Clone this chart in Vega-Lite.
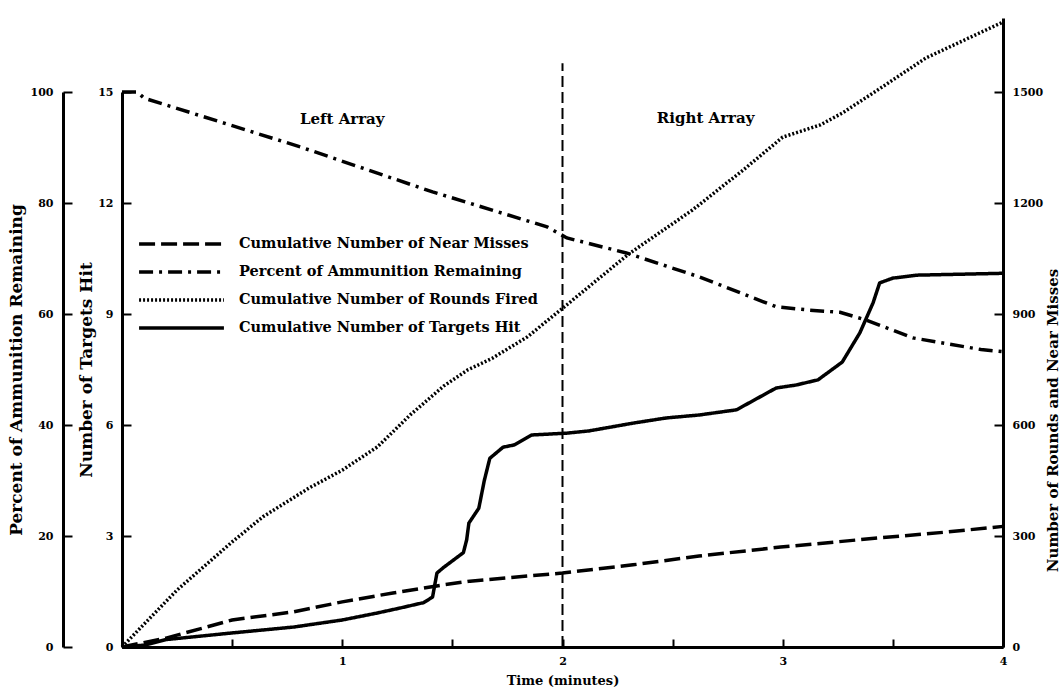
{
  "$schema": "https://vega.github.io/schema/vega-lite/v6.json",
  "width": 881,
  "height": 629,
  "autosize": {"type": "none"},
  "padding": {"left": 122, "top": 18, "right": 59, "bottom": 47},
  "background": "white",
  "config": {
    "view": {"stroke": null},
    "font": "DejaVu Serif",
    "axis": {
      "labelFont": "DejaVu Serif", "labelFontWeight": "bold", "labelFontSize": 11, "labelColor": "black",
      "titleFont": "DejaVu Serif", "titleFontWeight": "bold", "titleFontSize": 13, "titleColor": "black",
      "domainColor": "black", "domainWidth": 3, "tickColor": "black", "tickWidth": 2, "grid": false
    },
    "axisY": {"titleFontSize": 17}
  },
  "layer": [
    {
      "data": {"values": [
        {"t": 0, "v": 100, "series": "Percent of Ammunition Remaining"},
        {"t": 0.07, "v": 100, "series": "Percent of Ammunition Remaining"},
        {"t": 0.1, "v": 98.9, "series": "Percent of Ammunition Remaining"},
        {"t": 0.81, "v": 90.1, "series": "Percent of Ammunition Remaining"},
        {"t": 1.41, "v": 82, "series": "Percent of Ammunition Remaining"},
        {"t": 1.93, "v": 75.7, "series": "Percent of Ammunition Remaining"},
        {"t": 2.02, "v": 73.7, "series": "Percent of Ammunition Remaining"},
        {"t": 2.29, "v": 71, "series": "Percent of Ammunition Remaining"},
        {"t": 2.62, "v": 66.7, "series": "Percent of Ammunition Remaining"},
        {"t": 2.97, "v": 61.3, "series": "Percent of Ammunition Remaining"},
        {"t": 3.12, "v": 60.7, "series": "Percent of Ammunition Remaining"},
        {"t": 3.26, "v": 60.3, "series": "Percent of Ammunition Remaining"},
        {"t": 3.38, "v": 58.9, "series": "Percent of Ammunition Remaining"},
        {"t": 3.59, "v": 55.7, "series": "Percent of Ammunition Remaining"},
        {"t": 3.9, "v": 53.6, "series": "Percent of Ammunition Remaining"},
        {"t": 4.0, "v": 53.2, "series": "Percent of Ammunition Remaining"}
      ]},
      "mark": {"type": "line", "color": "black", "strokeCap": "butt"},
      "encoding": {
        "x": {"field": "t", "type": "quantitative", "scale": {"domain": [0, 4], "nice": false},
              "axis": {"title": "Time (minutes)", "values": [0.5, 1, 1.5, 2, 2.5, 3, 3.5, 4], "labelExpr": "datum.value % 1 == 0 ? format(datum.value, 'd') : ''", "tickSize": -8, "labelPadding": 16, "labelFlush": false, "titlePadding": 8}},
        "y": {"field": "v", "type": "quantitative", "scale": {"domain": [0, 100], "range": [629, 74], "nice": false},
              "axis": {"orient": "left", "offset": 59, "values": [0, 20, 40, 60, 80, 100], "format": "d", "title": "Percent of Ammunition Remaining", "tickSize": -9, "labelPadding": 19, "titlePadding": 5}},
        "strokeDash": {"field": "series", "type": "nominal",
          "scale": {"domain": ["Cumulative Number of Near Misses", "Percent of Ammunition Remaining", "Cumulative Number of Rounds Fired", "Cumulative Number of Targets Hit"],
                    "range": [[16, 6], [14, 6, 3, 6], [2, 2], [1, 0]]},
          "legend": {"title": null, "orient": "none", "legendX": 15, "legendY": 213, "symbolType": "stroke", "symbolSize": 7200, "clipHeight": 26, "rowPadding": 2, "labelOffset": 13, "labelFont": "DejaVu Serif", "labelFontWeight": "bold", "labelFontSize": 14.5, "labelColor": "black", "labelLimit": 500, "symbolStrokeColor": "black", "padding": 0}},
        "strokeWidth": {"field": "series", "type": "nominal",
          "scale": {"domain": ["Cumulative Number of Near Misses", "Percent of Ammunition Remaining", "Cumulative Number of Rounds Fired", "Cumulative Number of Targets Hit"],
                    "range": [3.5, 3.5, 2, 4]},
          "legend": {"title": null, "orient": "none", "legendX": 15, "legendY": 213, "symbolType": "stroke", "symbolSize": 7200, "clipHeight": 26, "rowPadding": 2, "labelOffset": 13, "labelFont": "DejaVu Serif", "labelFontWeight": "bold", "labelFontSize": 14.5, "labelColor": "black", "labelLimit": 500, "symbolStrokeColor": "black", "padding": 0}}
      }
    },
    {
      "data": {"values": [
        {"t": 0, "v": 0, "series": "Cumulative Number of Targets Hit"},
        {"t": 0.1, "v": 0.05, "series": "Cumulative Number of Targets Hit"},
        {"t": 0.2, "v": 0.2, "series": "Cumulative Number of Targets Hit"},
        {"t": 0.5, "v": 0.38, "series": "Cumulative Number of Targets Hit"},
        {"t": 0.78, "v": 0.54, "series": "Cumulative Number of Targets Hit"},
        {"t": 1.0, "v": 0.73, "series": "Cumulative Number of Targets Hit"},
        {"t": 1.16, "v": 0.92, "series": "Cumulative Number of Targets Hit"},
        {"t": 1.26, "v": 1.05, "series": "Cumulative Number of Targets Hit"},
        {"t": 1.37, "v": 1.2, "series": "Cumulative Number of Targets Hit"},
        {"t": 1.41, "v": 1.35, "series": "Cumulative Number of Targets Hit"},
        {"t": 1.43, "v": 2.0, "series": "Cumulative Number of Targets Hit"},
        {"t": 1.46, "v": 2.15, "series": "Cumulative Number of Targets Hit"},
        {"t": 1.55, "v": 2.55, "series": "Cumulative Number of Targets Hit"},
        {"t": 1.565, "v": 2.9, "series": "Cumulative Number of Targets Hit"},
        {"t": 1.575, "v": 3.35, "series": "Cumulative Number of Targets Hit"},
        {"t": 1.62, "v": 3.75, "series": "Cumulative Number of Targets Hit"},
        {"t": 1.645, "v": 4.5, "series": "Cumulative Number of Targets Hit"},
        {"t": 1.67, "v": 5.1, "series": "Cumulative Number of Targets Hit"},
        {"t": 1.73, "v": 5.4, "series": "Cumulative Number of Targets Hit"},
        {"t": 1.78, "v": 5.46, "series": "Cumulative Number of Targets Hit"},
        {"t": 1.86, "v": 5.73, "series": "Cumulative Number of Targets Hit"},
        {"t": 2.02, "v": 5.78, "series": "Cumulative Number of Targets Hit"},
        {"t": 2.12, "v": 5.84, "series": "Cumulative Number of Targets Hit"},
        {"t": 2.32, "v": 6.05, "series": "Cumulative Number of Targets Hit"},
        {"t": 2.47, "v": 6.19, "series": "Cumulative Number of Targets Hit"},
        {"t": 2.62, "v": 6.27, "series": "Cumulative Number of Targets Hit"},
        {"t": 2.79, "v": 6.41, "series": "Cumulative Number of Targets Hit"},
        {"t": 2.97, "v": 7.0, "series": "Cumulative Number of Targets Hit"},
        {"t": 3.06, "v": 7.08, "series": "Cumulative Number of Targets Hit"},
        {"t": 3.16, "v": 7.22, "series": "Cumulative Number of Targets Hit"},
        {"t": 3.27, "v": 7.7, "series": "Cumulative Number of Targets Hit"},
        {"t": 3.35, "v": 8.49, "series": "Cumulative Number of Targets Hit"},
        {"t": 3.41, "v": 9.3, "series": "Cumulative Number of Targets Hit"},
        {"t": 3.44, "v": 9.84, "series": "Cumulative Number of Targets Hit"},
        {"t": 3.5, "v": 9.97, "series": "Cumulative Number of Targets Hit"},
        {"t": 3.61, "v": 10.05, "series": "Cumulative Number of Targets Hit"},
        {"t": 4.0, "v": 10.1, "series": "Cumulative Number of Targets Hit"}
      ]},
      "mark": {"type": "line", "color": "black", "strokeCap": "butt", "strokeJoin": "round"},
      "encoding": {
        "x": {"field": "t", "type": "quantitative", "scale": {"domain": [0, 4], "nice": false},
              "axis": {"title": "Time (minutes)", "values": [0.5, 1, 1.5, 2, 2.5, 3, 3.5, 4], "labelExpr": "datum.value % 1 == 0 ? format(datum.value, 'd') : ''", "tickSize": -8, "labelPadding": 16, "labelFlush": false, "titlePadding": 8}},
        "y": {"field": "v", "type": "quantitative", "scale": {"domain": [0, 15], "range": [629, 74], "nice": false},
              "axis": {"orient": "left", "offset": 0, "values": [0, 3, 6, 9, 12, 15], "format": "d", "title": "Number of Targets Hit", "tickSize": -9, "labelPadding": 18, "titlePadding": 2}},
        "strokeDash": {"field": "series", "type": "nominal",
          "scale": {"domain": ["Cumulative Number of Near Misses", "Percent of Ammunition Remaining", "Cumulative Number of Rounds Fired", "Cumulative Number of Targets Hit"],
                    "range": [[16, 6], [14, 6, 3, 6], [2, 2], [1, 0]]}},
        "strokeWidth": {"field": "series", "type": "nominal",
          "scale": {"domain": ["Cumulative Number of Near Misses", "Percent of Ammunition Remaining", "Cumulative Number of Rounds Fired", "Cumulative Number of Targets Hit"],
                    "range": [3.5, 3.5, 2, 4]}}
      }
    },
    {
      "layer": [
        {
          "data": {"values": [
            {"t": 0, "v": 0, "series": "Cumulative Number of Rounds Fired"},
            {"t": 0.25, "v": 154, "series": "Cumulative Number of Rounds Fired"},
            {"t": 0.5, "v": 284, "series": "Cumulative Number of Rounds Fired"},
            {"t": 0.64, "v": 352, "series": "Cumulative Number of Rounds Fired"},
            {"t": 0.85, "v": 430, "series": "Cumulative Number of Rounds Fired"},
            {"t": 1.0, "v": 478, "series": "Cumulative Number of Rounds Fired"},
            {"t": 1.16, "v": 541, "series": "Cumulative Number of Rounds Fired"},
            {"t": 1.31, "v": 628, "series": "Cumulative Number of Rounds Fired"},
            {"t": 1.46, "v": 705, "series": "Cumulative Number of Rounds Fired"},
            {"t": 1.57, "v": 749, "series": "Cumulative Number of Rounds Fired"},
            {"t": 1.68, "v": 780, "series": "Cumulative Number of Rounds Fired"},
            {"t": 1.84, "v": 838, "series": "Cumulative Number of Rounds Fired"},
            {"t": 2.02, "v": 925, "series": "Cumulative Number of Rounds Fired"},
            {"t": 2.3, "v": 1062, "series": "Cumulative Number of Rounds Fired"},
            {"t": 2.59, "v": 1181, "series": "Cumulative Number of Rounds Fired"},
            {"t": 2.82, "v": 1289, "series": "Cumulative Number of Rounds Fired"},
            {"t": 3.0, "v": 1378, "series": "Cumulative Number of Rounds Fired"},
            {"t": 3.17, "v": 1411, "series": "Cumulative Number of Rounds Fired"},
            {"t": 3.27, "v": 1443, "series": "Cumulative Number of Rounds Fired"},
            {"t": 3.43, "v": 1505, "series": "Cumulative Number of Rounds Fired"},
            {"t": 3.65, "v": 1592, "series": "Cumulative Number of Rounds Fired"},
            {"t": 4.0, "v": 1689, "series": "Cumulative Number of Rounds Fired"},
            {"t": 0, "v": 0, "series": "Cumulative Number of Near Misses"},
            {"t": 0.2, "v": 24, "series": "Cumulative Number of Near Misses"},
            {"t": 0.5, "v": 73, "series": "Cumulative Number of Near Misses"},
            {"t": 0.78, "v": 95, "series": "Cumulative Number of Near Misses"},
            {"t": 1.0, "v": 122, "series": "Cumulative Number of Near Misses"},
            {"t": 1.23, "v": 146, "series": "Cumulative Number of Near Misses"},
            {"t": 1.46, "v": 168, "series": "Cumulative Number of Near Misses"},
            {"t": 1.58, "v": 178, "series": "Cumulative Number of Near Misses"},
            {"t": 2.0, "v": 200, "series": "Cumulative Number of Near Misses"},
            {"t": 2.32, "v": 222, "series": "Cumulative Number of Near Misses"},
            {"t": 2.62, "v": 246, "series": "Cumulative Number of Near Misses"},
            {"t": 2.99, "v": 270, "series": "Cumulative Number of Near Misses"},
            {"t": 3.44, "v": 295, "series": "Cumulative Number of Near Misses"},
            {"t": 3.75, "v": 311, "series": "Cumulative Number of Near Misses"},
            {"t": 4.0, "v": 326, "series": "Cumulative Number of Near Misses"}
          ]},
          "mark": {"type": "line", "color": "black", "strokeCap": "butt"},
          "encoding": {
            "x": {"field": "t", "type": "quantitative", "scale": {"domain": [0, 4], "nice": false},
                  "axis": {"title": "Time (minutes)", "values": [0.5, 1, 1.5, 2, 2.5, 3, 3.5, 4], "labelExpr": "datum.value % 1 == 0 ? format(datum.value, 'd') : ''", "tickSize": -8, "labelPadding": 16, "labelFlush": false, "titlePadding": 8}},
            "y": {"field": "v", "type": "quantitative", "scale": {"domain": [0, 1700], "nice": false},
                  "axis": {"orient": "right", "values": [0, 300, 600, 900, 1200, 1500], "format": "d", "title": "Number of Rounds and Near Misses", "tickSize": -9, "labelPadding": 18, "titlePadding": 3, "titleAngle": 270, "titleBaseline": "top", "titleFontSize": 15, "titleY": 402}},
            "strokeDash": {"field": "series", "type": "nominal",
              "scale": {"domain": ["Cumulative Number of Near Misses", "Percent of Ammunition Remaining", "Cumulative Number of Rounds Fired", "Cumulative Number of Targets Hit"],
                        "range": [[16, 6], [14, 6, 3, 6], [2, 2], [1, 0]]}},
            "strokeWidth": {"field": "series", "type": "nominal",
              "scale": {"domain": ["Cumulative Number of Near Misses", "Percent of Ammunition Remaining", "Cumulative Number of Rounds Fired", "Cumulative Number of Targets Hit"],
                        "range": [3.5, 3.5, 2, 4]}}
          }
        },
        {
          "data": {"values": [{"t": 2, "v": 0, "v2": 1578}]},
          "mark": {"type": "rule", "color": "black", "strokeWidth": 2, "strokeDash": [11, 5]},
          "encoding": {
            "x": {"field": "t", "type": "quantitative", "scale": {"domain": [0, 4], "nice": false},
                  "axis": {"title": "Time (minutes)", "values": [0.5, 1, 1.5, 2, 2.5, 3, 3.5, 4], "labelExpr": "datum.value % 1 == 0 ? format(datum.value, 'd') : ''", "tickSize": -8, "labelPadding": 16, "labelFlush": false, "titlePadding": 8}},
            "y": {"field": "v", "type": "quantitative", "scale": {"domain": [0, 1700], "nice": false},
                  "axis": {"orient": "right", "values": [0, 300, 600, 900, 1200, 1500], "format": "d", "title": "Number of Rounds and Near Misses", "tickSize": -9, "labelPadding": 18, "titlePadding": 3, "titleAngle": 270, "titleBaseline": "top", "titleFontSize": 15, "titleY": 402}},
            "y2": {"field": "v2"}
          }
        },
        {
          "data": {"values": [
            {"t": 1.0, "v": 1427, "label": "Left Array"},
            {"t": 2.65, "v": 1430, "label": "Right Array"}
          ]},
          "mark": {"type": "text", "font": "DejaVu Serif", "fontWeight": "bold", "fontSize": 15, "color": "black"},
          "encoding": {
            "x": {"field": "t", "type": "quantitative", "scale": {"domain": [0, 4], "nice": false},
                  "axis": {"title": "Time (minutes)", "values": [0.5, 1, 1.5, 2, 2.5, 3, 3.5, 4], "labelExpr": "datum.value % 1 == 0 ? format(datum.value, 'd') : ''", "tickSize": -8, "labelPadding": 16, "labelFlush": false, "titlePadding": 8}},
            "y": {"field": "v", "type": "quantitative", "scale": {"domain": [0, 1700], "nice": false},
                  "axis": {"orient": "right", "values": [0, 300, 600, 900, 1200, 1500], "format": "d", "title": "Number of Rounds and Near Misses", "tickSize": -9, "labelPadding": 18, "titlePadding": 3, "titleAngle": 270, "titleBaseline": "top", "titleFontSize": 15, "titleY": 402}},
            "text": {"field": "label", "type": "nominal"}
          }
        }
      ]
    }
  ],
  "resolve": {"scale": {"y": "independent"}, "axis": {"y": "independent"}}
}
